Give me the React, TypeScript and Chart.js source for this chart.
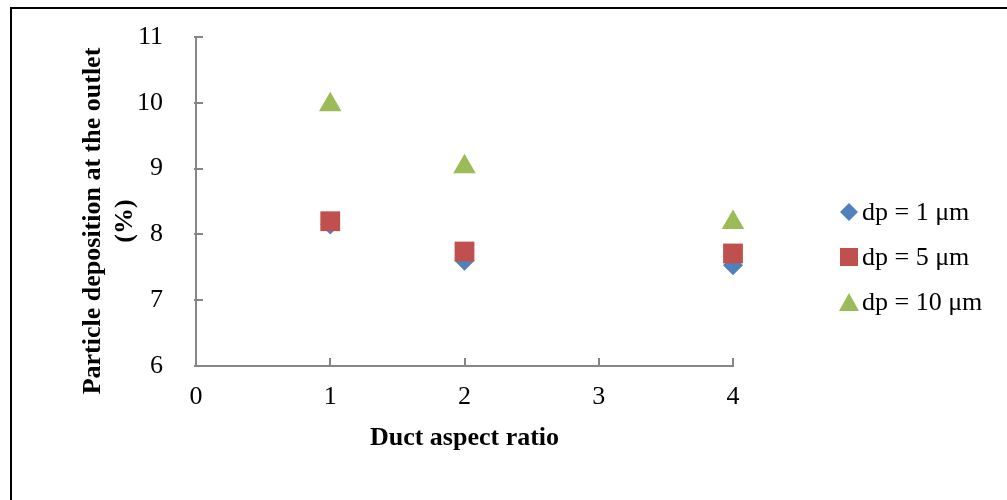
import React, { useEffect, useRef } from 'react';
import { Chart, registerables } from 'chart.js';

Chart.register(...registerables);

// ---- data ----
const aspectRatios = [1, 2, 4];
const dp1Values = [8.15, 7.6, 7.53];
const dp5Values = [8.2, 7.74, 7.71];
const dp10Values = [9.97, 9.03, 8.18];
const seriesLabels = ['dp = 1 \u03bcm', 'dp = 5 \u03bcm', 'dp = 10 \u03bcm'];
const xTitle = 'Duct aspect ratio';
const yTitleLines = ['Particle deposition at the outlet', '(%)'];

const BLUE = '#4F81BD';
const RED = '#C0504D';
const GREEN = '#9BBB59';
const AXIS = '#868686';
const FONT = "'Liberation Serif', 'Times New Roman', serif";

const toPoints = (vals: number[]) => vals.map((v, i) => ({ x: aspectRatios[i], y: v }));

const innerTicksPlugin = {
  id: 'innerTicks',
  afterDraw(chart: any) {
    const { ctx, chartArea } = chart;
    const xs = chart.scales.x;
    const ys = chart.scales.y;
    ctx.save();
    ctx.strokeStyle = AXIS;
    ctx.lineWidth = 2;
    xs.ticks.forEach((t: any) => {
      const px = Math.round(xs.getPixelForValue(t.value));
      ctx.beginPath();
      ctx.moveTo(px, chartArea.bottom);
      ctx.lineTo(px, chartArea.bottom - 8);
      ctx.stroke();
    });
    ys.ticks.forEach((t: any) => {
      const py = Math.round(ys.getPixelForValue(t.value));
      ctx.beginPath();
      ctx.moveTo(chartArea.left - 2, py);
      ctx.lineTo(chartArea.left + 7, py);
      ctx.stroke();
    });
    ctx.restore();
  },
};

const yTitlePlugin = {
  id: 'yTitle',
  afterDraw(chart: any) {
    const { ctx } = chart;
    const centerY = 221;
    const firstX = 93;
    const lineGap = 32;
    ctx.save();
    ctx.fillStyle = '#000';
    ctx.font = `bold 26px ${FONT}`;
    ctx.textAlign = 'center';
    ctx.textBaseline = 'middle';
    yTitleLines.forEach((line, i) => {
      ctx.save();
      ctx.translate(firstX + i * lineGap, centerY);
      ctx.rotate(-Math.PI / 2);
      ctx.fillText(line, 0, 0);
      ctx.restore();
    });
    ctx.restore();
  },
};

const legendPlugin = {
  id: 'customLegend',
  afterDraw(chart: any) {
    const { ctx } = chart;
    const cx = 849;
    const textX = 862;
    const ys = [212, 257, 302];
    ctx.save();
    chart.data.datasets.forEach((ds: any, i: number) => {
      const cy = ys[i];
      ctx.fillStyle = ds.backgroundColor;
      ctx.beginPath();
      if (ds.pointStyle === 'rectRot') {
        ctx.moveTo(cx, cy - 9);
        ctx.lineTo(cx + 9, cy);
        ctx.lineTo(cx, cy + 9);
        ctx.lineTo(cx - 9, cy);
      } else if (ds.pointStyle === 'rect') {
        ctx.rect(cx - 9, cy - 9, 18, 18);
      } else {
        ctx.moveTo(cx, cy - 9);
        ctx.lineTo(cx + 10, cy + 9);
        ctx.lineTo(cx - 10, cy + 9);
      }
      ctx.closePath();
      ctx.fill();
      ctx.fillStyle = '#000';
      ctx.font = `26px ${FONT}`;
      ctx.textAlign = 'left';
      ctx.textBaseline = 'middle';
      ctx.fillText(ds.label, textX, cy + 1);
    });
    ctx.restore();
  },
};

export default function App() {
  const canvasRef = useRef<HTMLCanvasElement | null>(null);

  useEffect(() => {
    if (!canvasRef.current) return;
    const chart = new Chart(canvasRef.current, {
      type: 'scatter',
      data: {
        datasets: [
          {
            label: seriesLabels[0],
            data: toPoints(dp1Values),
            pointStyle: 'rectRot',
            pointRadius: 10,
            backgroundColor: BLUE,
            borderColor: BLUE,
            borderWidth: 0,
            clip: false,
            order: 1,
          },
          {
            label: seriesLabels[1],
            data: toPoints(dp5Values),
            pointStyle: 'rect',
            pointRadius: 14,
            backgroundColor: RED,
            borderColor: RED,
            borderWidth: 0,
            clip: false,
            order: 0,
          },
          {
            label: seriesLabels[2],
            data: toPoints(dp10Values),
            pointStyle: 'triangle',
            pointRadius: 13,
            backgroundColor: GREEN,
            borderColor: GREEN,
            borderWidth: 0,
            clip: false,
            order: 2,
          },
        ],
      },
      options: {
        responsive: false,
        animation: false,
        devicePixelRatio: 1,
        layout: { padding: { top: 37, right: 274, bottom: 0, left: 0 } },
        plugins: {
          legend: { display: false },
          tooltip: { enabled: false },
        },
        scales: {
          x: {
            type: 'linear',
            min: 0,
            max: 4,
            grid: { display: false },
            border: { display: true, color: AXIS, width: 2 },
            ticks: {
              stepSize: 1,
              padding: 8,
              color: '#000',
              font: { family: FONT, size: 26 },
            },
            title: {
              display: true,
              text: xTitle,
              color: '#000',
              font: { family: FONT, size: 26, weight: 'bold', lineHeight: 1.2 },
              padding: { top: 0, bottom: 46 },
            },
            afterFit(scale: any) {
              scale.height = 134;
            },
          },
          y: {
            type: 'linear',
            min: 6,
            max: 11,
            grid: { display: false },
            border: { display: true, color: AXIS, width: 2 },
            ticks: {
              stepSize: 1,
              padding: 25,
              color: '#000',
              font: { family: FONT, size: 26, lineHeight: 0.9 },
            },
            title: { display: false },
            afterFit(scale: any) {
              scale.width = 196;
            },
          },
        },
      },
      plugins: [innerTicksPlugin, yTitlePlugin, legendPlugin],
    } as any);
    return () => chart.destroy();
  }, []);

  return (
    <div style={{ position: 'fixed', left: 0, top: 0, width: 1007, height: 500, overflow: 'hidden', background: '#fff' }}>
      <div
        style={{
          position: 'absolute',
          left: 10,
          top: 7,
          width: 1100,
          height: 600,
          border: '2px solid #000',
          boxSizing: 'border-box',
        }}
      />
      <canvas
        ref={canvasRef}
        width={1007}
        height={500}
        style={{ position: 'absolute', left: 0, top: 0, width: 1007, height: 500 }}
      />
    </div>
  );
}
